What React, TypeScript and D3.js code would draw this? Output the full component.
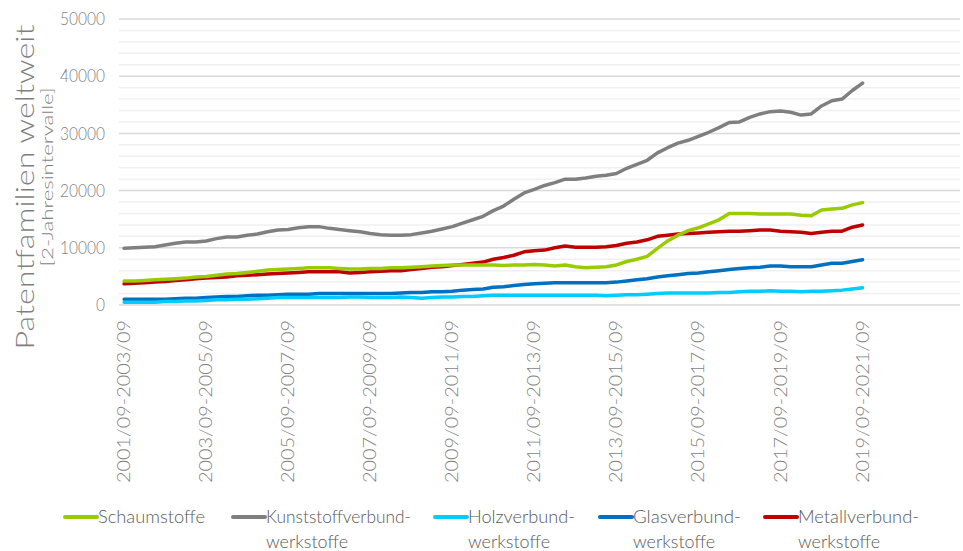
import React from "react";
import * as d3 from "d3";

const tickLabels = [
  "2001/09-2003/09", "2003/09-2005/09", "2005/09-2007/09", "2007/09-2009/09",
  "2009/09-2011/09", "2011/09-2013/09", "2013/09-2015/09", "2015/09-2017/09",
  "2017/09-2019/09", "2019/09-2021/09",
];
const categoryCount = 82;
const labelEvery = 8;

const schaumstoffe = [
  4200, 4200, 4300, 4400, 4500, 4600, 4700, 4900, 5000, 5200, 5400, 5500, 5700, 5900, 6100, 6200,
  6300, 6400, 6500, 6500, 6500, 6400, 6300, 6300, 6400, 6400, 6500, 6500, 6600, 6700, 6800, 6900,
  7000, 7000, 7000, 7000, 7000, 6900, 7000, 7000, 7100, 7000, 6800, 7000, 6700, 6500, 6600, 6700,
  7000, 7600, 8000, 8500, 9900, 11200, 12200, 13000, 13500, 14200, 14900, 16000, 16000, 16000, 15900, 15900,
  15900, 15900, 15700, 15600, 16600, 16800, 16900, 17500, 17900,
];
const kunststoff = [
  9900, 10000, 10100, 10200, 10500, 10800, 11000, 11000, 11200, 11600, 11900, 11900, 12200, 12400, 12800, 13100,
  13200, 13500, 13700, 13700, 13400, 13200, 13000, 12800, 12500, 12300, 12200, 12200, 12300, 12600, 12900, 13300,
  13700, 14300, 14900, 15500, 16500, 17300, 18500, 19600, 20200, 20900, 21400, 22000, 22000, 22200, 22500, 22700,
  23000, 23900, 24600, 25300, 26600, 27500, 28300, 28800, 29500, 30200, 31000, 31900, 32000, 32800, 33400, 33800,
  33900, 33700, 33200, 33400, 34800, 35700, 36000, 37500, 38800,
];
const holz = [
  500, 500, 500, 500, 600, 600, 700, 700, 800, 900, 900, 1000, 1000, 1100, 1200, 1300,
  1300, 1300, 1300, 1300, 1300, 1300, 1400, 1400, 1300, 1300, 1300, 1400, 1300, 1200, 1300, 1400,
  1400, 1500, 1500, 1600, 1700, 1700, 1700, 1700, 1700, 1700, 1700, 1700, 1700, 1700, 1700, 1600,
  1700, 1800, 1800, 1900, 2000, 2100, 2100, 2100, 2100, 2100, 2200, 2200, 2300, 2400, 2400, 2500,
  2400, 2400, 2300, 2400, 2400, 2500, 2600, 2800, 3000,
];
const glas = [
  1000, 1000, 1000, 1000, 1000, 1100, 1200, 1200, 1300, 1400, 1500, 1500, 1600, 1700, 1700, 1800,
  1900, 1900, 1900, 2000, 2000, 2000, 2000, 2000, 2000, 2000, 2000, 2100, 2200, 2200, 2300, 2300,
  2400, 2600, 2700, 2800, 3100, 3200, 3400, 3600, 3700, 3800, 3900, 3900, 3900, 3900, 3900, 3900,
  4000, 4200, 4400, 4600, 4900, 5100, 5300, 5500, 5600, 5800, 6000, 6200, 6400, 6500, 6600, 6800,
  6800, 6700, 6700, 6700, 7000, 7300, 7300, 7600, 7900,
];
const metall = [
  3700, 3800, 3900, 4000, 4100, 4300, 4400, 4600, 4700, 4800, 4900, 5100, 5200, 5300, 5400, 5500,
  5600, 5700, 5800, 5800, 5800, 5800, 5600, 5700, 5800, 5900, 6000, 6000, 6200, 6400, 6600, 6700,
  6900, 7100, 7300, 7500, 8000, 8300, 8700, 9300, 9500, 9600, 10000, 10300, 10100, 10100, 10100, 10200,
  10400, 10800, 11000, 11400, 12000, 12200, 12400, 12500, 12600, 12700, 12800, 12900, 12900, 13000, 13100, 13100,
  12900, 12800, 12700, 12500, 12700, 12900, 12900, 13600, 14000,
];

const seriesNames = [
  ["Schaumstoffe"],
  ["Kunststoffverbund-", "werkstoffe"],
  ["Holzverbund-", "werkstoffe"],
  ["Glasverbund-", "werkstoffe"],
  ["Metallverbund-", "werkstoffe"],
];
const seriesValues = [schaumstoffe, kunststoff, holz, glas, metall];
const seriesColors = ["#99cc00", "#7f7f7f", "#00ccff", "#0070c0", "#c00000"];
// drawing order (back to front)
const drawOrder = [4, 3, 2, 0, 1];

const W = 963;
const H = 551;
const FONT = "Lato, 'Open Sans', 'Liberation Sans', sans-serif";

export default function App() {
  const x = d3
    .scaleBand<number>()
    .domain(d3.range(categoryCount))
    .range([119, 960]);
  const cx = (i: number) => (x(i) as number) + x.bandwidth() / 2;
  const y = d3.scaleLinear().domain([0, 50000]).range([305, 19]);

  const majorTicks = d3.range(0, 50001, 10000);
  const minorTicks = d3.range(0, 50001, 2000).filter((v) => v % 10000 !== 0);

  const line = d3
    .line<number>()
    .x((_, i) => cx(i))
    .y((v) => y(v));

  const legendX = [65, 233, 435, 600, 765];
  const legendTextLen = [107, 145, 107, 108, 121];

  return (
    <svg
      width={W}
      height={H}
      style={{ position: "absolute", left: 0, top: 0, background: "#fff" }}
      fontFamily={FONT}
      fontWeight={300}
    >
      {/* minor grid */}
      {minorTicks.map((v) => (
        <line key={"m" + v} x1={119} x2={960} y1={y(v)} y2={y(v)} stroke="#f0f0f0" strokeWidth={1.5} />
      ))}
      {/* major grid */}
      {majorTicks.map((v) => (
        <line key={"M" + v} x1={119} x2={960} y1={y(v)} y2={y(v)} stroke="#d9d9d9" strokeWidth={1.5} />
      ))}
      {/* y tick labels */}
      {majorTicks.map((v) => (
        <text
          key={"t" + v}
          x={105}
          y={y(v)}
          dy="0.36em"
          textAnchor="end"
          fontSize={17}
          fill="#7f7f7f"
          textLength={9 * String(v).length}
          lengthAdjust="spacingAndGlyphs"
        >
          {v}
        </text>
      ))}
      {/* x tick labels */}
      {tickLabels.map((lab, k) => {
        const i = k * labelEvery;
        const px = cx(i);
        return (
          <text
            key={lab}
            transform={`translate(${px + 6},320) rotate(-90)`}
            textAnchor="end"
            fontSize={17}
            fill="#7f7f7f"
            textLength={163}
            lengthAdjust="spacingAndGlyphs"
          >
            {lab}
          </text>
        );
      })}
      {/* series lines */}
      {drawOrder.map((s) => (
        <path
          key={"s" + s}
          d={line(seriesValues[s]) || ""}
          fill="none"
          stroke={seriesColors[s]}
          strokeWidth={3.5}
          strokeLinejoin="round"
          strokeLinecap="round"
        />
      ))}
      {/* y axis title */}
      <text
        transform="translate(34,187) rotate(-90)"
        textAnchor="middle"
        fontSize={25}
        fill="#7f7f7f"
        textLength={325}
        lengthAdjust="spacingAndGlyphs"
      >
        Patentfamilien weltweit
      </text>
      <text
        transform="translate(53,177) rotate(-90)"
        textAnchor="middle"
        fontSize={16}
        fill="#7f7f7f"
        textLength={179}
        lengthAdjust="spacingAndGlyphs"
      >
        [2-Jahresintervalle]
      </text>
      {/* legend */}
      {seriesNames.map((name, s) => (
        <g key={"l" + s}>
          <line
            x1={legendX[s]}
            x2={legendX[s] + 32}
            y1={517}
            y2={517}
            stroke={seriesColors[s]}
            strokeWidth={4}
            strokeLinecap="round"
          />
          {name.map((ln, j) => (
            <text
              key={j}
              x={legendX[s] + 33}
              y={517 + j * 25}
              dy="0.36em"
              fontSize={17}
              fill="#595959"
              textLength={j === 0 ? legendTextLen[s] : 82}
              lengthAdjust="spacingAndGlyphs"
            >
              {ln}
            </text>
          ))}
        </g>
      ))}
    </svg>
  );
}
